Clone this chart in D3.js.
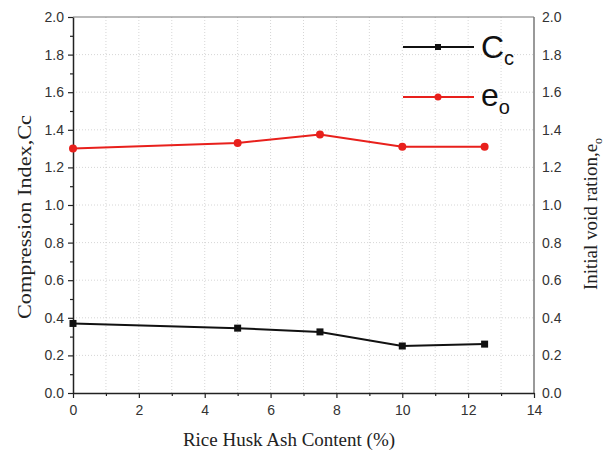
<!DOCTYPE html>
<html lang="en">
<head>
<meta charset="utf-8">
<title>Compression index and void ratio</title>
<script src="https://cdn.jsdelivr.net/npm/d3@7"></script>
<style>
  body { margin: 0; background: #fff; }
  .title { font-family: "Times New Roman", "Liberation Serif", serif; font-size: 19px; fill: #222; }
</style>
</head>
<body>
<div id="chart"></div>
<script>
// values
var ashContent = [0, 5, 7.5, 10, 12.5];
var ccValues = [0.37, 0.345, 0.325, 0.25, 0.26];
var eoValues = [1.30, 1.33, 1.375, 1.31, 1.31];
var xTicks = [0, 2, 4, 6, 8, 10, 12, 14];
var yTicks = [0, 0.2, 0.4, 0.6, 0.8, 1.0, 1.2, 1.4, 1.6, 1.8, 2.0];

var w = 606, h = 450;
var pLeft = 73, pRight = 534, pTop = 17, pBottom = 393;

var svg = d3.select("#chart").append("svg")
  .attr("width", w).attr("height", h);

var x = d3.scaleLinear().domain([0, 14]).range([pLeft, pRight]);
var y = d3.scaleLinear().domain([0, 2]).range([pBottom, pTop]);

// grid
var grid = svg.append("g").attr("stroke", "#ccc").attr("stroke-width", 0.8)
  .attr("stroke-dasharray", "1,2");
grid.selectAll("line.gx").data(d3.range(1, 14)).enter().append("line")
  .attr("x1", d => x(d)).attr("x2", d => x(d)).attr("y1", pTop).attr("y2", pBottom);
grid.selectAll("line.gy").data(yTicks.slice(1, -1)).enter().append("line")
  .attr("x1", pLeft).attr("x2", pRight).attr("y1", d => y(d)).attr("y2", d => y(d));

// frame: top and right are grey
svg.append("line").attr("x1", pLeft).attr("x2", pRight).attr("y1", pTop).attr("y2", pTop)
  .attr("stroke", "#777").attr("stroke-width", 1.2);
svg.append("line").attr("x1", pRight).attr("x2", pRight).attr("y1", pTop).attr("y2", pBottom)
  .attr("stroke", "#777").attr("stroke-width", 1.5);

// left axis
svg.append("g").attr("transform", "translate(" + pLeft + ",0)")
  .call(d3.axisLeft(y).tickValues(yTicks).tickFormat(d3.format(".1f")).tickSize(5).tickSizeOuter(0).tickPadding(4));
svg.append("g").attr("transform", "translate(" + pLeft + ",0)")
  .call(d3.axisLeft(y).tickValues(d3.range(0.1, 2, 0.2)).tickFormat("").tickSize(3).tickSizeOuter(0))
  .select(".domain").remove();

// bottom axis
svg.append("g").attr("transform", "translate(0," + pBottom + ")")
  .call(d3.axisBottom(x).tickValues(xTicks).tickSize(5).tickSizeOuter(0).tickPadding(7));
svg.append("g").attr("transform", "translate(0," + pBottom + ")")
  .call(d3.axisBottom(x).tickValues(d3.range(1, 14, 2)).tickFormat("").tickSize(3).tickSizeOuter(0))
  .select(".domain").remove();

// right labels (no ticks)
svg.append("g").attr("transform", "translate(" + pRight + ",0)")
  .call(d3.axisRight(y).tickValues(yTicks).tickFormat(d3.format(".1f")).tickSize(0).tickPadding(8))
  .select(".domain").remove();

svg.selectAll(".domain").attr("stroke", "#222").attr("stroke-width", 1.5);
svg.selectAll(".tick line").attr("stroke", "#222").attr("stroke-width", 1.2);
svg.selectAll(".tick text")
  .attr("font-family", "Arial, 'Liberation Sans', sans-serif")
  .attr("font-size", 14).attr("fill", "#333");

// axis titles
svg.append("text").attr("class", "title")
  .attr("transform", "translate(31,217) rotate(-90)")
  .attr("text-anchor", "middle").attr("font-size", 20)
  .attr("textLength", 204).attr("lengthAdjust", "spacingAndGlyphs")
  .text("Compression Index,Cc");

var rt = svg.append("text").attr("class", "title")
  .attr("transform", "translate(597,214) rotate(-90)")
  .attr("text-anchor", "middle");
rt.append("tspan").text("Initial void ration,e");
rt.append("tspan").attr("dy", 5).attr("font-size", 12).text("o");

svg.append("text").attr("class", "title")
  .attr("x", 289).attr("y", 446).attr("text-anchor", "middle")
  .text("Rice Husk Ash Content (%)");

// series
var line = d3.line().x((d, i) => x(ashContent[i])).y(d => y(d));

svg.append("path").datum(ccValues).attr("d", line)
  .attr("fill", "none").attr("stroke", "#111").attr("stroke-width", 2);
svg.selectAll("rect.cc").data(ccValues).enter().append("rect")
  .attr("x", (d, i) => x(ashContent[i]) - 3.5).attr("y", d => y(d) - 3.5)
  .attr("width", 7).attr("height", 7).attr("fill", "#111");

svg.append("path").datum(eoValues).attr("d", line)
  .attr("fill", "none").attr("stroke", "#e8201c").attr("stroke-width", 2);
svg.selectAll("circle.eo").data(eoValues).enter().append("circle")
  .attr("cx", (d, i) => x(ashContent[i])).attr("cy", d => y(d)).attr("r", 4)
  .attr("fill", "#e8201c");

// legend
var leg = svg.append("g");
leg.append("line").attr("x1", 403).attr("x2", 474).attr("y1", 47).attr("y2", 47)
  .attr("stroke", "#111").attr("stroke-width", 2);
leg.append("rect").attr("x", 435).attr("y", 44).attr("width", 6).attr("height", 6).attr("fill", "#111");
var t1 = leg.append("text").attr("x", 481).attr("y", 58)
  .attr("font-family", "Arial, 'Liberation Sans', sans-serif").attr("font-size", 32).attr("fill", "#111");
t1.append("tspan").text("C");
t1.append("tspan").attr("dy", 7).attr("font-size", 20).text("c");

leg.append("line").attr("x1", 403).attr("x2", 474).attr("y1", 97).attr("y2", 97)
  .attr("stroke", "#e8201c").attr("stroke-width", 2);
leg.append("circle").attr("cx", 438).attr("cy", 97).attr("r", 3.5).attr("fill", "#e8201c");
var t2 = leg.append("text").attr("x", 481).attr("y", 106)
  .attr("font-family", "Arial, 'Liberation Sans', sans-serif").attr("font-size", 32).attr("fill", "#111");
t2.append("tspan").text("e");
t2.append("tspan").attr("dy", 8).attr("font-size", 20).text("o");
</script>
</body>
</html>
